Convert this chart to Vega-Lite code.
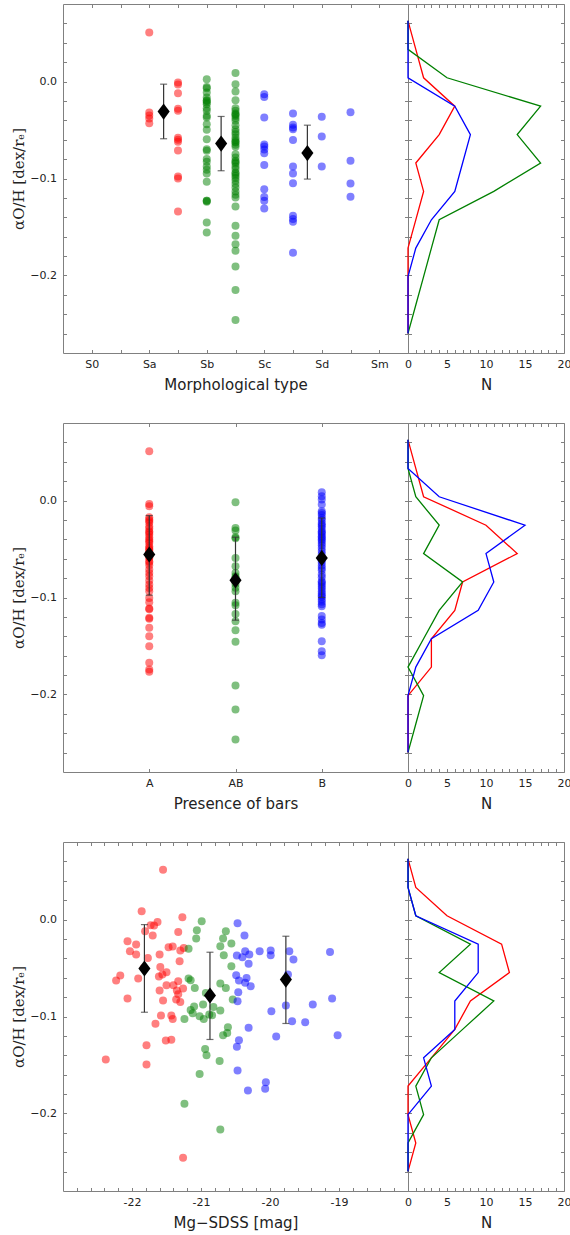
{
"$schema": "https://vega.github.io/schema/vega-lite/v6.json",
"padding": {"left": 11, "top": 3, "right": 0, "bottom": 0},
"config": {
  "view": {"stroke": "#808080", "strokeWidth": 1},
  "axis": {"domain": false, "grid": false, "tickColor": "#808080", "tickSize": -3.5, "tickWidth": 1, "labelPadding": 9, "labelFont": "DejaVu Sans", "labelFontSize": 11, "labelColor": "#222", "titleFont": "DejaVu Sans", "titleFontSize": 15, "titleFontWeight": "normal", "titleColor": "#222", "labelFlush": false, "labelOverlap": false, "titlePadding": 8}
},
"datasets": {
  "morph": [
    {"x":1,"y":0.0505,"c":"1"},{"x":1,"y":-0.032,"c":"1"},{"x":1,"y":-0.035,"c":"1"},{"x":1,"y":-0.038,"c":"1"},{"x":1,"y":-0.043,"c":"1"},
    {"x":1.5,"y":-0.001,"c":"1"},{"x":1.5,"y":-0.003,"c":"1"},{"x":1.5,"y":-0.012,"c":"1"},{"x":1.5,"y":-0.028,"c":"1"},{"x":1.5,"y":-0.030,"c":"1"},{"x":1.5,"y":-0.058,"c":"1"},{"x":1.5,"y":-0.060,"c":"1"},{"x":1.5,"y":-0.062,"c":"1"},{"x":1.5,"y":-0.071,"c":"1"},{"x":1.5,"y":-0.098,"c":"1"},{"x":1.5,"y":-0.100,"c":"1"},{"x":1.5,"y":-0.134,"c":"1"},
    {"x":2,"y":0.0025,"c":"2"},{"x":2,"y":-0.0055,"c":"2"},{"x":2,"y":-0.0068,"c":"2"},{"x":2,"y":-0.0113,"c":"2"},{"x":2,"y":-0.0165,"c":"2"},{"x":2,"y":-0.0192,"c":"2"},{"x":2,"y":-0.020,"c":"2"},{"x":2,"y":-0.0216,"c":"2"},{"x":2,"y":-0.0233,"c":"2"},{"x":2,"y":-0.0275,"c":"2"},{"x":2,"y":-0.0302,"c":"2"},{"x":2,"y":-0.0354,"c":"2"},{"x":2,"y":-0.0371,"c":"2"},{"x":2,"y":-0.044,"c":"2"},{"x":2,"y":-0.0498,"c":"2"},{"x":2,"y":-0.0594,"c":"2"},{"x":2,"y":-0.0697,"c":"2"},{"x":2,"y":-0.0714,"c":"2"},{"x":2,"y":-0.080,"c":"2"},{"x":2,"y":-0.0828,"c":"2"},{"x":2,"y":-0.0876,"c":"2"},{"x":2,"y":-0.091,"c":"2"},{"x":2,"y":-0.0948,"c":"2"},{"x":2,"y":-0.1034,"c":"2"},{"x":2,"y":-0.1229,"c":"2"},{"x":2,"y":-0.1229,"c":"2"},{"x":2,"y":-0.124,"c":"2"},{"x":2,"y":-0.1454,"c":"2"},{"x":2,"y":-0.1557,"c":"2"},
    {"x":2.5,"y":0.0087,"c":"2"},{"x":2.5,"y":-0.0027,"c":"2"},{"x":2.5,"y":-0.0103,"c":"2"},{"x":2.5,"y":-0.0192,"c":"2"},{"x":2.5,"y":-0.0275,"c":"2"},{"x":2.5,"y":-0.0302,"c":"2"},{"x":2.5,"y":-0.033,"c":"2"},{"x":2.5,"y":-0.034,"c":"2"},{"x":2.5,"y":-0.0354,"c":"2"},{"x":2.5,"y":-0.0378,"c":"2"},{"x":2.5,"y":-0.0405,"c":"2"},{"x":2.5,"y":-0.045,"c":"2"},{"x":2.5,"y":-0.0491,"c":"2"},{"x":2.5,"y":-0.052,"c":"2"},{"x":2.5,"y":-0.0543,"c":"2"},{"x":2.5,"y":-0.0577,"c":"2"},{"x":2.5,"y":-0.0604,"c":"2"},{"x":2.5,"y":-0.062,"c":"2"},{"x":2.5,"y":-0.0629,"c":"2"},{"x":2.5,"y":-0.0653,"c":"2"},{"x":2.5,"y":-0.0673,"c":"2"},{"x":2.5,"y":-0.0749,"c":"2"},{"x":2.5,"y":-0.0783,"c":"2"},{"x":2.5,"y":-0.0818,"c":"2"},{"x":2.5,"y":-0.083,"c":"2"},{"x":2.5,"y":-0.0845,"c":"2"},{"x":2.5,"y":-0.0876,"c":"2"},{"x":2.5,"y":-0.0903,"c":"2"},{"x":2.5,"y":-0.0938,"c":"2"},{"x":2.5,"y":-0.095,"c":"2"},{"x":2.5,"y":-0.0972,"c":"2"},{"x":2.5,"y":-0.0996,"c":"2"},{"x":2.5,"y":-0.1024,"c":"2"},{"x":2.5,"y":-0.1058,"c":"2"},{"x":2.5,"y":-0.1093,"c":"2"},{"x":2.5,"y":-0.1134,"c":"2"},{"x":2.5,"y":-0.1168,"c":"2"},{"x":2.5,"y":-0.1196,"c":"2"},{"x":2.5,"y":-0.1289,"c":"2"},{"x":2.5,"y":-0.1488,"c":"2"},{"x":2.5,"y":-0.1591,"c":"2"},{"x":2.5,"y":-0.1677,"c":"2"},{"x":2.5,"y":-0.1746,"c":"2"},{"x":2.5,"y":-0.1907,"c":"2"},{"x":2.5,"y":-0.2151,"c":"2"},{"x":2.5,"y":-0.2460,"c":"2"},
    {"x":3,"y":-0.013,"c":"3"},{"x":3,"y":-0.016,"c":"3"},{"x":3,"y":-0.037,"c":"3"},{"x":3,"y":-0.065,"c":"3"},{"x":3,"y":-0.067,"c":"3"},{"x":3,"y":-0.070,"c":"3"},{"x":3,"y":-0.074,"c":"3"},{"x":3,"y":-0.086,"c":"3"},{"x":3,"y":-0.111,"c":"3"},{"x":3,"y":-0.119,"c":"3"},{"x":3,"y":-0.123,"c":"3"},{"x":3,"y":-0.131,"c":"3"},
    {"x":3.5,"y":-0.033,"c":"3"},{"x":3.5,"y":-0.0446,"c":"3"},{"x":3.5,"y":-0.0474,"c":"3"},{"x":3.5,"y":-0.0491,"c":"3"},{"x":3.5,"y":-0.0604,"c":"3"},{"x":3.5,"y":-0.0876,"c":"3"},{"x":3.5,"y":-0.0948,"c":"3"},{"x":3.5,"y":-0.1048,"c":"3"},{"x":3.5,"y":-0.1385,"c":"3"},{"x":3.5,"y":-0.1419,"c":"3"},{"x":3.5,"y":-0.1447,"c":"3"},{"x":3.5,"y":-0.1766,"c":"3"},
    {"x":4,"y":-0.0364,"c":"3"},{"x":4,"y":-0.0567,"c":"3"},{"x":4,"y":-0.0876,"c":"3"},
    {"x":4.5,"y":-0.0316,"c":"3"},{"x":4.5,"y":-0.0818,"c":"3"},{"x":4.5,"y":-0.1051,"c":"3"},{"x":4.5,"y":-0.1189,"c":"3"}
  ],
  "morphStats": [
    {"x":1.25,"m":-0.031,"lo":-0.059,"hi":-0.0027},
    {"x":2.25,"m":-0.064,"lo":-0.092,"hi":-0.036},
    {"x":3.75,"m":-0.0738,"lo":-0.1006,"hi":-0.045}
  ],
  "morphHist": [
    {"N":0,"y":0.0626,"c":"1"},{"N":1,"y":0.0332,"c":"1"},{"N":2,"y":0.0039,"c":"1"},{"N":6,"y":-0.0254,"c":"1"},{"N":4,"y":-0.0547,"c":"1"},{"N":1,"y":-0.084,"c":"1"},{"N":2,"y":-0.1133,"c":"1"},{"N":1,"y":-0.1426,"c":"1"},{"N":0,"y":-0.1718,"c":"1"},{"N":0,"y":-0.2012,"c":"1"},{"N":0,"y":-0.2305,"c":"1"},{"N":0,"y":-0.2598,"c":"1"},
    {"N":0,"y":0.0626,"c":"2"},{"N":0,"y":0.0332,"c":"2"},{"N":5,"y":0.0039,"c":"2"},{"N":17,"y":-0.0254,"c":"2"},{"N":14,"y":-0.0547,"c":"2"},{"N":17,"y":-0.084,"c":"2"},{"N":11,"y":-0.1133,"c":"2"},{"N":4,"y":-0.1426,"c":"2"},{"N":3,"y":-0.1718,"c":"2"},{"N":2,"y":-0.2012,"c":"2"},{"N":1,"y":-0.2305,"c":"2"},{"N":0,"y":-0.2598,"c":"2"},
    {"N":0,"y":0.0626,"c":"3"},{"N":0,"y":0.0332,"c":"3"},{"N":0,"y":0.0039,"c":"3"},{"N":6,"y":-0.0254,"c":"3"},{"N":8,"y":-0.0547,"c":"3"},{"N":7,"y":-0.084,"c":"3"},{"N":6,"y":-0.1133,"c":"3"},{"N":3,"y":-0.1426,"c":"3"},{"N":1,"y":-0.1718,"c":"3"},{"N":0,"y":-0.2012,"c":"3"},{"N":0,"y":-0.2305,"c":"3"},{"N":0,"y":-0.2598,"c":"3"}
  ],
  "bars": [
    {"x":1,"y":0.0508,"c":"1"},{"x":1,"y":-0.0035,"c":"1"},{"x":1,"y":-0.0059,"c":"1"},{"x":1,"y":-0.0172,"c":"1"},{"x":1,"y":-0.0196,"c":"1"},{"x":1,"y":-0.021,"c":"1"},{"x":1,"y":-0.023,"c":"1"},{"x":1,"y":-0.0265,"c":"1"},{"x":1,"y":-0.0289,"c":"1"},{"x":1,"y":-0.0316,"c":"1"},{"x":1,"y":-0.033,"c":"1"},{"x":1,"y":-0.0351,"c":"1"},{"x":1,"y":-0.0378,"c":"1"},{"x":1,"y":-0.0402,"c":"1"},{"x":1,"y":-0.042,"c":"1"},{"x":1,"y":-0.0437,"c":"1"},{"x":1,"y":-0.0471,"c":"1"},{"x":1,"y":-0.049,"c":"1"},{"x":1,"y":-0.0505,"c":"1"},{"x":1,"y":-0.052,"c":"1"},{"x":1,"y":-0.054,"c":"1"},{"x":1,"y":-0.056,"c":"1"},{"x":1,"y":-0.058,"c":"1"},{"x":1,"y":-0.0592,"c":"1"},{"x":1,"y":-0.0626,"c":"1"},{"x":1,"y":-0.064,"c":"1"},{"x":1,"y":-0.0667,"c":"1"},{"x":1,"y":-0.0711,"c":"1"},{"x":1,"y":-0.0746,"c":"1"},{"x":1,"y":-0.078,"c":"1"},{"x":1,"y":-0.0825,"c":"1"},{"x":1,"y":-0.0866,"c":"1"},{"x":1,"y":-0.0901,"c":"1"},{"x":1,"y":-0.0935,"c":"1"},{"x":1,"y":-0.1004,"c":"1"},{"x":1,"y":-0.105,"c":"1"},{"x":1,"y":-0.1113,"c":"1"},{"x":1,"y":-0.112,"c":"1"},{"x":1,"y":-0.121,"c":"1"},{"x":1,"y":-0.122,"c":"1"},{"x":1,"y":-0.1313,"c":"1"},{"x":1,"y":-0.1399,"c":"1"},{"x":1,"y":-0.1502,"c":"1"},{"x":1,"y":-0.1674,"c":"1"},{"x":1,"y":-0.1742,"c":"1"},{"x":1,"y":-0.1767,"c":"1"},
    {"x":2,"y":-0.0018,"c":"2"},{"x":2,"y":-0.0282,"c":"2"},{"x":2,"y":-0.031,"c":"2"},{"x":2,"y":-0.0378,"c":"2"},{"x":2,"y":-0.039,"c":"2"},{"x":2,"y":-0.0592,"c":"2"},{"x":2,"y":-0.0677,"c":"2"},{"x":2,"y":-0.0746,"c":"2"},{"x":2,"y":-0.078,"c":"2"},{"x":2,"y":-0.080,"c":"2"},{"x":2,"y":-0.083,"c":"2"},{"x":2,"y":-0.086,"c":"2"},{"x":2,"y":-0.090,"c":"2"},{"x":2,"y":-0.0935,"c":"2"},{"x":2,"y":-0.1055,"c":"2"},{"x":2,"y":-0.108,"c":"2"},{"x":2,"y":-0.1169,"c":"2"},{"x":2,"y":-0.1244,"c":"2"},{"x":2,"y":-0.1337,"c":"2"},{"x":2,"y":-0.1457,"c":"2"},{"x":2,"y":-0.1907,"c":"2"},{"x":2,"y":-0.2155,"c":"2"},{"x":2,"y":-0.2464,"c":"2"},
    {"x":3,"y":0.0086,"c":"3"},{"x":3,"y":0.0044,"c":"3"},{"x":3,"y":0.001,"c":"3"},{"x":3,"y":-0.0041,"c":"3"},{"x":3,"y":-0.011,"c":"3"},{"x":3,"y":-0.0128,"c":"3"},{"x":3,"y":-0.015,"c":"3"},{"x":3,"y":-0.0179,"c":"3"},{"x":3,"y":-0.020,"c":"3"},{"x":3,"y":-0.0231,"c":"3"},{"x":3,"y":-0.025,"c":"3"},{"x":3,"y":-0.0265,"c":"3"},{"x":3,"y":-0.029,"c":"3"},{"x":3,"y":-0.0316,"c":"3"},{"x":3,"y":-0.033,"c":"3"},{"x":3,"y":-0.0345,"c":"3"},{"x":3,"y":-0.0368,"c":"3"},{"x":3,"y":-0.038,"c":"3"},{"x":3,"y":-0.040,"c":"3"},{"x":3,"y":-0.0415,"c":"3"},{"x":3,"y":-0.0437,"c":"3"},{"x":3,"y":-0.046,"c":"3"},{"x":3,"y":-0.0489,"c":"3"},{"x":3,"y":-0.052,"c":"3"},{"x":3,"y":-0.055,"c":"3"},{"x":3,"y":-0.0592,"c":"3"},{"x":3,"y":-0.0615,"c":"3"},{"x":3,"y":-0.064,"c":"3"},{"x":3,"y":-0.067,"c":"3"},{"x":3,"y":-0.0695,"c":"3"},{"x":3,"y":-0.072,"c":"3"},{"x":3,"y":-0.0763,"c":"3"},{"x":3,"y":-0.079,"c":"3"},{"x":3,"y":-0.0832,"c":"3"},{"x":3,"y":-0.0845,"c":"3"},{"x":3,"y":-0.0866,"c":"3"},{"x":3,"y":-0.089,"c":"3"},{"x":3,"y":-0.091,"c":"3"},{"x":3,"y":-0.0935,"c":"3"},{"x":3,"y":-0.096,"c":"3"},{"x":3,"y":-0.098,"c":"3"},{"x":3,"y":-0.0995,"c":"3"},{"x":3,"y":-0.102,"c":"3"},{"x":3,"y":-0.1045,"c":"3"},{"x":3,"y":-0.107,"c":"3"},{"x":3,"y":-0.109,"c":"3"},{"x":3,"y":-0.119,"c":"3"},{"x":3,"y":-0.1227,"c":"3"},{"x":3,"y":-0.1262,"c":"3"},{"x":3,"y":-0.128,"c":"3"},{"x":3,"y":-0.1451,"c":"3"},{"x":3,"y":-0.1554,"c":"3"},{"x":3,"y":-0.1595,"c":"3"}
  ],
  "barsStats": [
    {"x":1,"m":-0.0557,"lo":-0.0976,"hi":-0.0155},
    {"x":2,"m":-0.0822,"lo":-0.1234,"hi":-0.0378},
    {"x":3,"m":-0.0592,"lo":-0.100,"hi":-0.018}
  ],
  "barsHist": [
    {"N":0,"y":0.0626,"c":"1"},{"N":1,"y":0.0332,"c":"1"},{"N":2,"y":0.0039,"c":"1"},{"N":10,"y":-0.0254,"c":"1"},{"N":14,"y":-0.0547,"c":"1"},{"N":7,"y":-0.084,"c":"1"},{"N":6,"y":-0.1133,"c":"1"},{"N":3,"y":-0.1426,"c":"1"},{"N":3,"y":-0.1718,"c":"1"},{"N":0,"y":-0.2012,"c":"1"},{"N":0,"y":-0.2305,"c":"1"},{"N":0,"y":-0.2598,"c":"1"},
    {"N":0,"y":0.0626,"c":"2"},{"N":0,"y":0.0332,"c":"2"},{"N":1,"y":0.0039,"c":"2"},{"N":4,"y":-0.0254,"c":"2"},{"N":2,"y":-0.0547,"c":"2"},{"N":7,"y":-0.084,"c":"2"},{"N":4,"y":-0.1133,"c":"2"},{"N":2,"y":-0.1426,"c":"2"},{"N":0,"y":-0.1718,"c":"2"},{"N":2,"y":-0.2012,"c":"2"},{"N":1,"y":-0.2305,"c":"2"},{"N":0,"y":-0.2598,"c":"2"},
    {"N":0,"y":0.0626,"c":"3"},{"N":0,"y":0.0332,"c":"3"},{"N":4,"y":0.0039,"c":"3"},{"N":15,"y":-0.0254,"c":"3"},{"N":10,"y":-0.0547,"c":"3"},{"N":11,"y":-0.084,"c":"3"},{"N":9,"y":-0.1133,"c":"3"},{"N":3,"y":-0.1426,"c":"3"},{"N":1,"y":-0.1718,"c":"3"},{"N":0,"y":-0.2012,"c":"3"},{"N":0,"y":-0.2305,"c":"3"},{"N":0,"y":-0.2598,"c":"3"}
  ],
  "mag": [
    {"x":-21.86,"y":0.0086,"c":"1"},{"x":-21.27,"y":0.0024,"c":"1"},{"x":-21.73,"y":-0.0059,"c":"1"},{"x":-21.68,"y":-0.0062,"c":"1"},{"x":-21.63,"y":-0.0025,"c":"1"},{"x":-21.81,"y":-0.012,"c":"1"},{"x":-21.33,"y":-0.0128,"c":"1"},{"x":-21.70,"y":-0.0165,"c":"1"},{"x":-22.065,"y":-0.0224,"c":"1"},{"x":-21.94,"y":-0.0258,"c":"1"},{"x":-22.03,"y":-0.0327,"c":"1"},{"x":-21.94,"y":-0.0361,"c":"1"},{"x":-21.47,"y":-0.0286,"c":"1"},{"x":-21.41,"y":-0.0278,"c":"1"},{"x":-21.30,"y":-0.032,"c":"1"},{"x":-21.25,"y":-0.0293,"c":"1"},{"x":-21.60,"y":-0.036,"c":"1"},{"x":-21.31,"y":-0.043,"c":"1"},{"x":-21.77,"y":-0.0396,"c":"1"},{"x":-22.17,"y":-0.0577,"c":"1"},{"x":-22.23,"y":-0.0629,"c":"1"},{"x":-21.91,"y":-0.0608,"c":"1"},{"x":-21.59,"y":-0.049,"c":"1"},{"x":-21.50,"y":-0.0543,"c":"1"},{"x":-21.61,"y":-0.0588,"c":"1"},{"x":-21.56,"y":-0.0567,"c":"1"},{"x":-21.33,"y":-0.0636,"c":"1"},{"x":-21.50,"y":-0.0677,"c":"1"},{"x":-21.40,"y":-0.0677,"c":"1"},{"x":-21.35,"y":-0.0732,"c":"1"},{"x":-21.26,"y":-0.0711,"c":"1"},{"x":-21.60,"y":-0.0732,"c":"1"},{"x":-22.065,"y":-0.0814,"c":"1"},{"x":-21.55,"y":-0.0835,"c":"1"},{"x":-21.36,"y":-0.0825,"c":"1"},{"x":-21.30,"y":-0.085,"c":"1"},{"x":-21.58,"y":-0.099,"c":"1"},{"x":-21.43,"y":-0.099,"c":"1"},{"x":-21.41,"y":-0.1025,"c":"1"},{"x":-21.66,"y":-0.1076,"c":"1"},{"x":-21.51,"y":-0.1248,"c":"1"},{"x":-21.43,"y":-0.1241,"c":"1"},{"x":-21.79,"y":-0.1296,"c":"1"},{"x":-22.38,"y":-0.1443,"c":"1"},{"x":-21.79,"y":-0.1495,"c":"1"},{"x":-21.26,"y":-0.2458,"c":"1"},{"x":-21.55,"y":0.0515,"c":"1"},{"x":-21.83,"y":-0.05,"c":"1"},{"x":-21.33,"y":-0.077,"c":"1"},
    {"x":-20.99,"y":-0.0018,"c":"2"},{"x":-21.06,"y":-0.011,"c":"2"},{"x":-21.07,"y":-0.0196,"c":"2"},{"x":-21.18,"y":-0.030,"c":"2"},{"x":-21.18,"y":-0.0608,"c":"2"},{"x":-21.15,"y":-0.0626,"c":"2"},{"x":-21.09,"y":-0.0705,"c":"2"},{"x":-21.15,"y":-0.0932,"c":"2"},{"x":-21.10,"y":-0.0897,"c":"2"},{"x":-21.24,"y":-0.1025,"c":"2"},{"x":-21.12,"y":-0.0966,"c":"2"},{"x":-21.02,"y":-0.0997,"c":"2"},{"x":-20.96,"y":-0.1025,"c":"2"},{"x":-20.93,"y":-0.0757,"c":"2"},{"x":-20.97,"y":-0.0876,"c":"2"},{"x":-20.82,"y":-0.0901,"c":"2"},{"x":-20.84,"y":-0.0987,"c":"2"},{"x":-20.72,"y":-0.0938,"c":"2"},{"x":-20.72,"y":-0.066,"c":"2"},{"x":-20.64,"y":-0.0705,"c":"2"},{"x":-20.54,"y":-0.0825,"c":"2"},{"x":-20.72,"y":-0.0275,"c":"2"},{"x":-20.68,"y":-0.0196,"c":"2"},{"x":-20.64,"y":-0.012,"c":"2"},{"x":-20.56,"y":-0.0247,"c":"2"},{"x":-20.67,"y":-0.0368,"c":"2"},{"x":-20.56,"y":-0.0481,"c":"2"},{"x":-20.61,"y":-0.111,"c":"2"},{"x":-20.68,"y":-0.1193,"c":"2"},{"x":-20.62,"y":-0.1169,"c":"2"},{"x":-20.94,"y":-0.1334,"c":"2"},{"x":-20.92,"y":-0.140,"c":"2"},{"x":-20.73,"y":-0.146,"c":"2"},{"x":-21.02,"y":-0.1592,"c":"2"},{"x":-21.24,"y":-0.190,"c":"2"},{"x":-20.72,"y":-0.2165,"c":"2"},{"x":-20.88,"y":-0.098,"c":"2"},
    {"x":-20.47,"y":-0.0038,"c":"3"},{"x":-20.37,"y":-0.0165,"c":"3"},{"x":-20.48,"y":-0.0371,"c":"3"},{"x":-20.40,"y":-0.0389,"c":"3"},{"x":-20.36,"y":-0.0327,"c":"3"},{"x":-20.30,"y":-0.0361,"c":"3"},{"x":-20.15,"y":-0.0327,"c":"3"},{"x":-19.99,"y":-0.032,"c":"3"},{"x":-19.99,"y":-0.0368,"c":"3"},{"x":-19.72,"y":-0.0327,"c":"3"},{"x":-19.66,"y":-0.0412,"c":"3"},{"x":-19.13,"y":-0.0334,"c":"3"},{"x":-20.31,"y":-0.0457,"c":"3"},{"x":-20.49,"y":-0.0574,"c":"3"},{"x":-20.45,"y":-0.0629,"c":"3"},{"x":-20.36,"y":-0.0653,"c":"3"},{"x":-20.34,"y":-0.0602,"c":"3"},{"x":-20.28,"y":-0.0687,"c":"3"},{"x":-19.74,"y":-0.0567,"c":"3"},{"x":-20.46,"y":-0.075,"c":"3"},{"x":-20.47,"y":-0.0842,"c":"3"},{"x":-19.98,"y":-0.0945,"c":"3"},{"x":-19.77,"y":-0.0887,"c":"3"},{"x":-19.38,"y":-0.0876,"c":"3"},{"x":-19.10,"y":-0.0814,"c":"3"},{"x":-19.68,"y":-0.1048,"c":"3"},{"x":-19.49,"y":-0.1059,"c":"3"},{"x":-19.91,"y":-0.1206,"c":"3"},{"x":-19.02,"y":-0.1193,"c":"3"},{"x":-20.31,"y":-0.1117,"c":"3"},{"x":-20.45,"y":-0.1244,"c":"3"},{"x":-20.48,"y":-0.1313,"c":"3"},{"x":-20.47,"y":-0.1557,"c":"3"},{"x":-20.32,"y":-0.1763,"c":"3"},{"x":-20.06,"y":-0.1677,"c":"3"},{"x":-20.07,"y":-0.1746,"c":"3"}
  ],
  "magStats": [
    {"x":-21.82,"m":-0.0505,"lo":-0.0956,"hi":-0.0052},
    {"x":-20.87,"m":-0.0784,"lo":-0.1237,"hi":-0.0337},
    {"x":-19.77,"m":-0.0619,"lo":-0.1072,"hi":-0.0172}
  ],
  "magHist": [
    {"N":0,"y":0.0626,"c":"1"},{"N":1,"y":0.0332,"c":"1"},{"N":5,"y":0.0039,"c":"1"},{"N":12,"y":-0.0254,"c":"1"},{"N":13,"y":-0.0547,"c":"1"},{"N":8,"y":-0.084,"c":"1"},{"N":6,"y":-0.1133,"c":"1"},{"N":3,"y":-0.1426,"c":"1"},{"N":0,"y":-0.1718,"c":"1"},{"N":0,"y":-0.2012,"c":"1"},{"N":1,"y":-0.2305,"c":"1"},{"N":0,"y":-0.2598,"c":"1"},
    {"N":0,"y":0.0626,"c":"2"},{"N":0,"y":0.0332,"c":"2"},{"N":1,"y":0.0039,"c":"2"},{"N":8,"y":-0.0254,"c":"2"},{"N":4,"y":-0.0547,"c":"2"},{"N":11,"y":-0.084,"c":"2"},{"N":7,"y":-0.1133,"c":"2"},{"N":3,"y":-0.1426,"c":"2"},{"N":1,"y":-0.1718,"c":"2"},{"N":2,"y":-0.2012,"c":"2"},{"N":0,"y":-0.2305,"c":"2"},{"N":0,"y":-0.2598,"c":"2"},
    {"N":0,"y":0.0626,"c":"3"},{"N":0,"y":0.0332,"c":"3"},{"N":1,"y":0.0039,"c":"3"},{"N":9,"y":-0.0254,"c":"3"},{"N":9,"y":-0.0547,"c":"3"},{"N":6,"y":-0.084,"c":"3"},{"N":6,"y":-0.1133,"c":"3"},{"N":2,"y":-0.1426,"c":"3"},{"N":3,"y":-0.1718,"c":"3"},{"N":0,"y":-0.2012,"c":"3"},{"N":0,"y":-0.2305,"c":"3"},{"N":0,"y":-0.2598,"c":"3"}
  ]
},
"spacing": 29,
"vconcat": [
  {"spacing": 0, "bounds": "flush", "hconcat": [
    {"width": 345, "height": 349,
     "resolve": {"axis": {"x": "independent", "y": "independent"}},
     "layer": [
      {"data": {"name": "morph"}, "mark": {"type": "circle", "size": 64, "opacity": 0.5},
       "encoding": {
        "x": {"field": "x", "type": "quantitative", "scale": {"domain": [-0.5, 5.5], "nice": false, "zero": false},
              "axis": {"values": [0,0.5,1,1.5,2,2.5,3,3.5,4,4.5,5], "labelExpr": "datum.value % 1 == 0 ? ['S0','Sa','Sb','Sc','Sd','Sm'][datum.value] : ''", "title": "Morphological type"}},
        "y": {"field": "y", "type": "quantitative", "scale": {"domain": [-0.28, 0.08], "nice": false, "zero": false},
              "axis": {"values": [-0.26,-0.24,-0.22,-0.2,-0.18,-0.16,-0.14,-0.12,-0.1,-0.08,-0.06,-0.04,-0.02,0,0.02,0.04,0.06], "labelExpr": "abs(datum.value*10 - round(datum.value*10)) < 0.001 ? format(datum.value, '.1f') : ''", "labelPadding": 10, "title": "αO/H [dex/rₑ]", "titleFont": "DejaVu Serif", "titlePadding": 3}},
        "color": {"field": "c", "type": "nominal", "scale": {"domain": ["1","2","3"], "range": ["#ff0000","#008000","#0000ff"]}, "legend": null}}},
      {"data": {"name": "morphStats"}, "mark": {"type": "rule", "color": "#333", "strokeWidth": 1.2},
       "encoding": {
        "x": {"field": "x", "type": "quantitative", "scale": {"domain": [-0.5, 5.5], "nice": false, "zero": false}, "axis": {"orient": "top", "values": [0,0.5,1,1.5,2,2.5,3,3.5,4,4.5,5], "labels": false, "title": null}},
        "y": {"field": "lo", "type": "quantitative", "scale": {"domain": [-0.28, 0.08], "nice": false, "zero": false}, "axis": {"orient": "right", "values": [-0.26,-0.24,-0.22,-0.2,-0.18,-0.16,-0.14,-0.12,-0.1,-0.08,-0.06,-0.04,-0.02,0,0.02,0.04,0.06], "labels": false, "title": null}},
        "y2": {"field": "hi"}}},
      {"data": {"name": "morphStats"}, "mark": {"type": "tick", "orient": "horizontal", "size": 7, "thickness": 1.2, "color": "#333"},
       "encoding": {
        "x": {"field": "x", "type": "quantitative", "scale": {"domain": [-0.5, 5.5], "nice": false, "zero": false}, "axis": null},
        "y": {"field": "lo", "type": "quantitative", "scale": {"domain": [-0.28, 0.08], "nice": false, "zero": false}, "axis": null}}},
      {"data": {"name": "morphStats"}, "mark": {"type": "tick", "orient": "horizontal", "size": 7, "thickness": 1.2, "color": "#333"},
       "encoding": {
        "x": {"field": "x", "type": "quantitative", "scale": {"domain": [-0.5, 5.5], "nice": false, "zero": false}, "axis": null},
        "y": {"field": "hi", "type": "quantitative", "scale": {"domain": [-0.28, 0.08], "nice": false, "zero": false}, "axis": null}}},
      {"data": {"name": "morphStats"}, "mark": {"type": "point", "shape": "M0,-1L0.75,0L0,1L-0.75,0Z", "filled": true, "color": "#000", "opacity": 1, "size": 260},
       "encoding": {
        "x": {"field": "x", "type": "quantitative", "scale": {"domain": [-0.5, 5.5], "nice": false, "zero": false}, "axis": null},
        "y": {"field": "m", "type": "quantitative", "scale": {"domain": [-0.28, 0.08], "nice": false, "zero": false}, "axis": null}}}
     ]},
    {"width": 156, "height": 349, "data": {"name": "morphHist"},
     "resolve": {"axis": {"x": "independent", "y": "independent"}},
     "layer": [
      {"mark": {"type": "line", "strokeWidth": 1.3},
       "encoding": {
        "x": {"field": "N", "type": "quantitative", "scale": {"domain": [0, 20], "nice": false}, "axis": {"values": [0,1,2,3,4,5,6,7,8,9,10,11,12,13,14,15,16,17,18,19,20], "labelExpr": "datum.value % 5 == 0 ? datum.label : ''", "title": "N"}},
        "y": {"field": "y", "type": "quantitative", "scale": {"domain": [-0.28, 0.08], "nice": false, "zero": false}, "axis": {"values": [-0.26,-0.24,-0.22,-0.2,-0.18,-0.16,-0.14,-0.12,-0.1,-0.08,-0.06,-0.04,-0.02,0,0.02,0.04,0.06], "labels": false, "title": null}},
        "color": {"field": "c", "type": "nominal", "scale": {"domain": ["1","2","3"], "range": ["#ff0000","#008000","#0000ff"]}, "legend": null},
        "order": {"field": "y", "sort": "descending"}}},
      {"mark": {"type": "point", "opacity": 0},
       "encoding": {
        "x": {"field": "N", "type": "quantitative", "scale": {"domain": [0, 20], "nice": false}, "axis": {"orient": "top", "values": [0,1,2,3,4,5,6,7,8,9,10,11,12,13,14,15,16,17,18,19,20], "labels": false, "title": null}},
        "y": {"field": "y", "type": "quantitative", "scale": {"domain": [-0.28, 0.08], "nice": false, "zero": false}, "axis": {"orient": "right", "values": [-0.26,-0.24,-0.22,-0.2,-0.18,-0.16,-0.14,-0.12,-0.1,-0.08,-0.06,-0.04,-0.02,0,0.02,0.04,0.06], "labels": false, "title": null}}}}
     ]}
  ]},
  {"spacing": 0, "bounds": "flush", "hconcat": [
    {"width": 345, "height": 349,
     "resolve": {"axis": {"x": "independent", "y": "independent"}},
     "layer": [
      {"data": {"name": "bars"}, "mark": {"type": "circle", "size": 64, "opacity": 0.5},
       "encoding": {
        "x": {"field": "x", "type": "quantitative", "scale": {"domain": [0, 4], "nice": false, "zero": false},
              "axis": {"values": [1,2,3], "labelExpr": "['','A','AB','B'][datum.value]", "title": "Presence of bars"}},
        "y": {"field": "y", "type": "quantitative", "scale": {"domain": [-0.28, 0.08], "nice": false, "zero": false},
              "axis": {"values": [-0.26,-0.24,-0.22,-0.2,-0.18,-0.16,-0.14,-0.12,-0.1,-0.08,-0.06,-0.04,-0.02,0,0.02,0.04,0.06], "labelExpr": "abs(datum.value*10 - round(datum.value*10)) < 0.001 ? format(datum.value, '.1f') : ''", "labelPadding": 10, "title": "αO/H [dex/rₑ]", "titleFont": "DejaVu Serif", "titlePadding": 3}},
        "color": {"field": "c", "type": "nominal", "scale": {"domain": ["1","2","3"], "range": ["#ff0000","#008000","#0000ff"]}, "legend": null}}},
      {"data": {"name": "barsStats"}, "mark": {"type": "rule", "color": "#333", "strokeWidth": 1.2},
       "encoding": {
        "x": {"field": "x", "type": "quantitative", "scale": {"domain": [0, 4], "nice": false, "zero": false}, "axis": {"orient": "top", "values": [1,2,3], "labels": false, "title": null}},
        "y": {"field": "lo", "type": "quantitative", "scale": {"domain": [-0.28, 0.08], "nice": false, "zero": false}, "axis": {"orient": "right", "values": [-0.26,-0.24,-0.22,-0.2,-0.18,-0.16,-0.14,-0.12,-0.1,-0.08,-0.06,-0.04,-0.02,0,0.02,0.04,0.06], "labels": false, "title": null}},
        "y2": {"field": "hi"}}},
      {"data": {"name": "barsStats"}, "mark": {"type": "tick", "orient": "horizontal", "size": 7, "thickness": 1.2, "color": "#333"},
       "encoding": {
        "x": {"field": "x", "type": "quantitative", "scale": {"domain": [0, 4], "nice": false, "zero": false}, "axis": null},
        "y": {"field": "lo", "type": "quantitative", "scale": {"domain": [-0.28, 0.08], "nice": false, "zero": false}, "axis": null}}},
      {"data": {"name": "barsStats"}, "mark": {"type": "tick", "orient": "horizontal", "size": 7, "thickness": 1.2, "color": "#333"},
       "encoding": {
        "x": {"field": "x", "type": "quantitative", "scale": {"domain": [0, 4], "nice": false, "zero": false}, "axis": null},
        "y": {"field": "hi", "type": "quantitative", "scale": {"domain": [-0.28, 0.08], "nice": false, "zero": false}, "axis": null}}},
      {"data": {"name": "barsStats"}, "mark": {"type": "point", "shape": "M0,-1L0.75,0L0,1L-0.75,0Z", "filled": true, "color": "#000", "opacity": 1, "size": 260},
       "encoding": {
        "x": {"field": "x", "type": "quantitative", "scale": {"domain": [0, 4], "nice": false, "zero": false}, "axis": null},
        "y": {"field": "m", "type": "quantitative", "scale": {"domain": [-0.28, 0.08], "nice": false, "zero": false}, "axis": null}}}
     ]},
    {"width": 156, "height": 349, "data": {"name": "barsHist"},
     "resolve": {"axis": {"x": "independent", "y": "independent"}},
     "layer": [
      {"mark": {"type": "line", "strokeWidth": 1.3},
       "encoding": {
        "x": {"field": "N", "type": "quantitative", "scale": {"domain": [0, 20], "nice": false}, "axis": {"values": [0,1,2,3,4,5,6,7,8,9,10,11,12,13,14,15,16,17,18,19,20], "labelExpr": "datum.value % 5 == 0 ? datum.label : ''", "title": "N"}},
        "y": {"field": "y", "type": "quantitative", "scale": {"domain": [-0.28, 0.08], "nice": false, "zero": false}, "axis": {"values": [-0.26,-0.24,-0.22,-0.2,-0.18,-0.16,-0.14,-0.12,-0.1,-0.08,-0.06,-0.04,-0.02,0,0.02,0.04,0.06], "labels": false, "title": null}},
        "color": {"field": "c", "type": "nominal", "scale": {"domain": ["1","2","3"], "range": ["#ff0000","#008000","#0000ff"]}, "legend": null},
        "order": {"field": "y", "sort": "descending"}}},
      {"mark": {"type": "point", "opacity": 0},
       "encoding": {
        "x": {"field": "N", "type": "quantitative", "scale": {"domain": [0, 20], "nice": false}, "axis": {"orient": "top", "values": [0,1,2,3,4,5,6,7,8,9,10,11,12,13,14,15,16,17,18,19,20], "labels": false, "title": null}},
        "y": {"field": "y", "type": "quantitative", "scale": {"domain": [-0.28, 0.08], "nice": false, "zero": false}, "axis": {"orient": "right", "values": [-0.26,-0.24,-0.22,-0.2,-0.18,-0.16,-0.14,-0.12,-0.1,-0.08,-0.06,-0.04,-0.02,0,0.02,0.04,0.06], "labels": false, "title": null}}}}
     ]}
  ]},
  {"spacing": 0, "bounds": "flush", "hconcat": [
    {"width": 345, "height": 349,
     "resolve": {"axis": {"x": "independent", "y": "independent"}},
     "layer": [
      {"data": {"name": "mag"}, "mark": {"type": "circle", "size": 64, "opacity": 0.5},
       "encoding": {
        "x": {"field": "x", "type": "quantitative", "scale": {"domain": [-23, -18], "nice": false, "zero": false},
              "axis": {"values": [-22.8,-22.6,-22.4,-22.2,-22,-21.8,-21.6,-21.4,-21.2,-21,-20.8,-20.6,-20.4,-20.2,-20,-19.8,-19.6,-19.4,-19.2,-19,-18.8,-18.6,-18.4,-18.2], "labelExpr": "abs(datum.value - round(datum.value)) < 0.001 ? '-' + abs(round(datum.value)) : ''", "title": "Mg−SDSS [mag]"}},
        "y": {"field": "y", "type": "quantitative", "scale": {"domain": [-0.28, 0.08], "nice": false, "zero": false},
              "axis": {"values": [-0.26,-0.24,-0.22,-0.2,-0.18,-0.16,-0.14,-0.12,-0.1,-0.08,-0.06,-0.04,-0.02,0,0.02,0.04,0.06], "labelExpr": "abs(datum.value*10 - round(datum.value*10)) < 0.001 ? format(datum.value, '.1f') : ''", "labelPadding": 10, "title": "αO/H [dex/rₑ]", "titleFont": "DejaVu Serif", "titlePadding": 3}},
        "color": {"field": "c", "type": "nominal", "scale": {"domain": ["1","2","3"], "range": ["#ff0000","#008000","#0000ff"]}, "legend": null}}},
      {"data": {"name": "magStats"}, "mark": {"type": "rule", "color": "#333", "strokeWidth": 1.2},
       "encoding": {
        "x": {"field": "x", "type": "quantitative", "scale": {"domain": [-23, -18], "nice": false, "zero": false}, "axis": {"orient": "top", "values": [-22.8,-22.6,-22.4,-22.2,-22,-21.8,-21.6,-21.4,-21.2,-21,-20.8,-20.6,-20.4,-20.2,-20,-19.8,-19.6,-19.4,-19.2,-19,-18.8,-18.6,-18.4,-18.2], "labels": false, "title": null}},
        "y": {"field": "lo", "type": "quantitative", "scale": {"domain": [-0.28, 0.08], "nice": false, "zero": false}, "axis": {"orient": "right", "values": [-0.26,-0.24,-0.22,-0.2,-0.18,-0.16,-0.14,-0.12,-0.1,-0.08,-0.06,-0.04,-0.02,0,0.02,0.04,0.06], "labels": false, "title": null}},
        "y2": {"field": "hi"}}},
      {"data": {"name": "magStats"}, "mark": {"type": "tick", "orient": "horizontal", "size": 7, "thickness": 1.2, "color": "#333"},
       "encoding": {
        "x": {"field": "x", "type": "quantitative", "scale": {"domain": [-23, -18], "nice": false, "zero": false}, "axis": null},
        "y": {"field": "lo", "type": "quantitative", "scale": {"domain": [-0.28, 0.08], "nice": false, "zero": false}, "axis": null}}},
      {"data": {"name": "magStats"}, "mark": {"type": "tick", "orient": "horizontal", "size": 7, "thickness": 1.2, "color": "#333"},
       "encoding": {
        "x": {"field": "x", "type": "quantitative", "scale": {"domain": [-23, -18], "nice": false, "zero": false}, "axis": null},
        "y": {"field": "hi", "type": "quantitative", "scale": {"domain": [-0.28, 0.08], "nice": false, "zero": false}, "axis": null}}},
      {"data": {"name": "magStats"}, "mark": {"type": "point", "shape": "M0,-1L0.75,0L0,1L-0.75,0Z", "filled": true, "color": "#000", "opacity": 1, "size": 260},
       "encoding": {
        "x": {"field": "x", "type": "quantitative", "scale": {"domain": [-23, -18], "nice": false, "zero": false}, "axis": null},
        "y": {"field": "m", "type": "quantitative", "scale": {"domain": [-0.28, 0.08], "nice": false, "zero": false}, "axis": null}}}
     ]},
    {"width": 156, "height": 349, "data": {"name": "magHist"},
     "resolve": {"axis": {"x": "independent", "y": "independent"}},
     "layer": [
      {"mark": {"type": "line", "strokeWidth": 1.3},
       "encoding": {
        "x": {"field": "N", "type": "quantitative", "scale": {"domain": [0, 20], "nice": false}, "axis": {"values": [0,1,2,3,4,5,6,7,8,9,10,11,12,13,14,15,16,17,18,19,20], "labelExpr": "datum.value % 5 == 0 ? datum.label : ''", "title": "N"}},
        "y": {"field": "y", "type": "quantitative", "scale": {"domain": [-0.28, 0.08], "nice": false, "zero": false}, "axis": {"values": [-0.26,-0.24,-0.22,-0.2,-0.18,-0.16,-0.14,-0.12,-0.1,-0.08,-0.06,-0.04,-0.02,0,0.02,0.04,0.06], "labels": false, "title": null}},
        "color": {"field": "c", "type": "nominal", "scale": {"domain": ["1","2","3"], "range": ["#ff0000","#008000","#0000ff"]}, "legend": null},
        "order": {"field": "y", "sort": "descending"}}},
      {"mark": {"type": "point", "opacity": 0},
       "encoding": {
        "x": {"field": "N", "type": "quantitative", "scale": {"domain": [0, 20], "nice": false}, "axis": {"orient": "top", "values": [0,1,2,3,4,5,6,7,8,9,10,11,12,13,14,15,16,17,18,19,20], "labels": false, "title": null}},
        "y": {"field": "y", "type": "quantitative", "scale": {"domain": [-0.28, 0.08], "nice": false, "zero": false}, "axis": {"orient": "right", "values": [-0.26,-0.24,-0.22,-0.2,-0.18,-0.16,-0.14,-0.12,-0.1,-0.08,-0.06,-0.04,-0.02,0,0.02,0.04,0.06], "labels": false, "title": null}}}}
     ]}
  ]}
]
}
